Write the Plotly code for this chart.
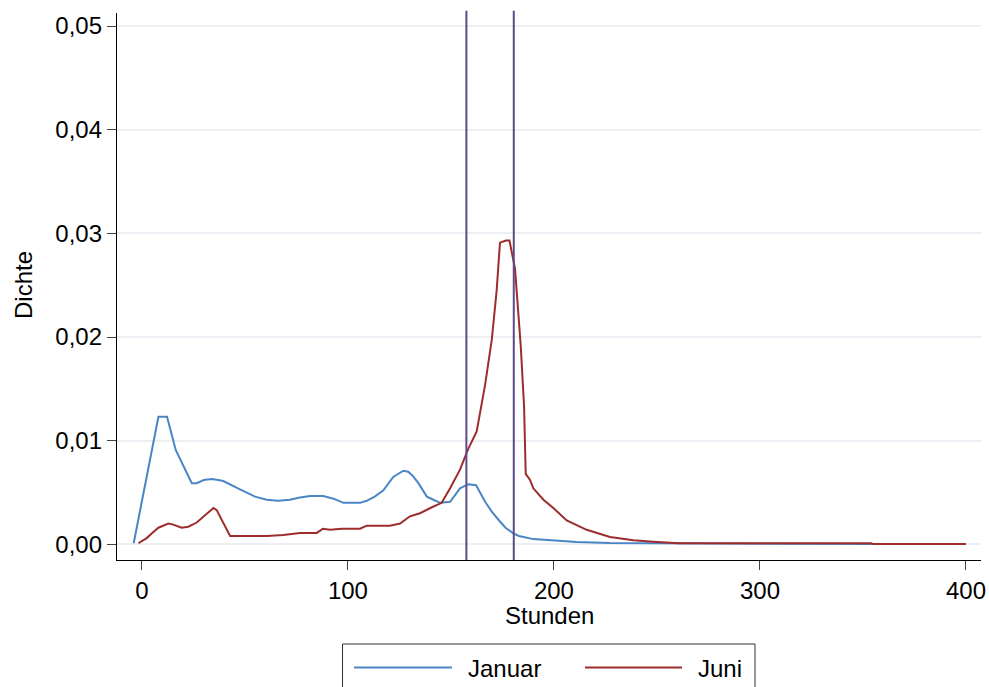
import plotly.graph_objects as go

# Januar density
jan_x = [-4, 8, 12.2, 16.4, 24.2, 26.6, 30, 33.9, 37, 39.5, 47.6, 54.9, 60.6, 66, 71.9, 76,
         81.6, 88, 93, 97.8, 105.9, 109.1, 113, 117.2, 122, 126.9, 129.3, 131.5, 134.2, 138.3,
         141.5, 144.7, 149.6, 152, 154.4, 158.5, 162.2, 166.6, 170, 173.8, 176.5, 180.3, 183,
         190, 199, 211, 227, 246.6, 260, 307, 354, 400]
jan_y = [0.0001, 0.0123, 0.0123, 0.0091, 0.0059, 0.0059, 0.0062, 0.0063, 0.0062, 0.0061, 0.0053,
         0.0046, 0.0043, 0.0042, 0.0043, 0.0045, 0.00466, 0.00466, 0.0044, 0.0040, 0.0040, 0.0042,
         0.0046, 0.0052, 0.0065, 0.0071, 0.0070, 0.0066, 0.0059, 0.0046, 0.0043, 0.0040, 0.0041,
         0.0047, 0.0054, 0.0058, 0.0057, 0.0041, 0.0031, 0.0022, 0.0016, 0.00106, 0.0008,
         0.0005, 0.00035, 0.00022, 0.00012, 0.0001, 0.0001, 0.0001, 0.00002, 0.00002]

# Juni density
jun_x = [-1.7, 2.3, 5, 8, 12.8, 15.2, 19.3, 22.5, 26.6, 30.6, 34.7, 36.3, 42.8, 54.9, 60.6,
         68.6, 76.7, 84.9, 87.8, 91.3, 97, 105.9, 109.1, 120.4, 125.3, 130.1, 135, 140, 145.5,
         149.6, 154.4, 158.4, 162.5, 166.6, 169.8, 172.2, 173.8, 176.7, 178.4, 181.1, 182.2,
         183.9, 185.5, 186.3, 188.4, 190, 194.9, 199.7, 206.2, 215.9, 227.2, 238.6, 248.3,
         260.4, 354, 355, 400]
jun_y = [0.0001, 0.0006, 0.0011, 0.0016, 0.0020, 0.0019, 0.0016, 0.0017, 0.0021, 0.0028, 0.0035,
         0.0033, 0.0008, 0.0008, 0.0008, 0.0009, 0.0011, 0.0011, 0.0015, 0.0014, 0.0015, 0.0015,
         0.0018, 0.0018, 0.0020, 0.0027, 0.0030, 0.0035, 0.0040, 0.0054, 0.0072, 0.0092, 0.0109,
         0.0154, 0.0197, 0.0245, 0.0291, 0.0293, 0.0293, 0.0266, 0.0239, 0.0191, 0.0133, 0.0068,
         0.0062, 0.0054, 0.0043, 0.0035, 0.0023, 0.0014, 0.0007, 0.0004, 0.00025, 0.0001,
         0.0001, 0.00002, 0.00002]

medians = [157.5, 180.5]
series_names = ["Januar", "Juni"]
x_ticks = [0, 100, 200, 300, 400]
y_ticks = [0.0, 0.01, 0.02, 0.03, 0.04, 0.05]

BLUE = "#4a86c6"
RED = "#9e2c2c"
PURPLE = "#5e4a88"
FONT = "Liberation Sans, Arial, sans-serif"
FS = 24

fig = go.Figure()
fig.add_trace(go.Scatter(x=jan_x, y=jan_y, mode="lines", name=series_names[0],
                         line=dict(color=BLUE, width=2), showlegend=False))
fig.add_trace(go.Scatter(x=jun_x, y=jun_y, mode="lines", name=series_names[1],
                         line=dict(color=RED, width=2), showlegend=False))
for m in medians:
    fig.add_shape(type="line", xref="x", yref="paper", x0=m, x1=m, y0=0, y1=1.004,
                  line=dict(color=PURPLE, width=2))

# manual legend (paper coords; page pixels relative to the plot area)
W, H = 864.0, 547.0
def px(xp):
    return (xp - 117) / W
def py(yp):
    return (560 - yp) / H

fig.add_shape(type="rect", xref="paper", yref="paper", x0=px(342.5), x1=px(755), y0=py(644),
              y1=py(720), line=dict(color="#333333", width=1), fillcolor="white", layer="above")
fig.add_shape(type="line", xref="paper", yref="paper", x0=px(354), x1=px(452), y0=py(667.5),
              y1=py(667.5), line=dict(color=BLUE, width=2))
fig.add_shape(type="line", xref="paper", yref="paper", x0=px(585), x1=px(682), y0=py(667.5),
              y1=py(667.5), line=dict(color=RED, width=2))

annos = [
    dict(text=series_names[0], x=px(466), y=py(668), xanchor="left", yanchor="middle"),
    dict(text=series_names[1], x=px(696), y=py(668), xanchor="left", yanchor="middle"),
    dict(text="Stunden", x=px(549.5), y=py(615.5), xanchor="center", yanchor="middle"),
    dict(text="Dichte", x=px(23), y=py(285), xanchor="center", yanchor="middle", textangle=-90),
]
for a in annos:
    fig.add_annotation(xref="paper", yref="paper", showarrow=False,
                       font=dict(family=FONT, size=FS, color="black"), **a)

fig.update_layout(
    template="none",
    width=989, height=687,
    margin=dict(l=117, r=8, t=13, b=127, autoexpand=False),
    paper_bgcolor="white", plot_bgcolor="white",
    separators=",.",
    font=dict(family=FONT, size=FS, color="black"),
    showlegend=False,
    xaxis=dict(range=[-12.1, 407.3], tickvals=x_ticks, showgrid=False, zeroline=False,
               showline=True, linecolor="black", linewidth=1.3, ticks="outside", ticklen=9,
               tickcolor="#444444", tickwidth=1.3, tickfont=dict(size=FS), automargin=False),
    yaxis=dict(range=[-0.001515, 0.05126], tickvals=y_ticks, tickformat=".2f",
               showgrid=True, gridcolor="#eceff4", gridwidth=1.5, zeroline=False,
               showline=True, linecolor="black", linewidth=1.3, ticks="outside", ticklen=9,
               tickcolor="#444444", tickwidth=1.3, tickfont=dict(size=FS), automargin=False),
)

fig.write_html("out.html", config={"displayModeBar": False},
               post_script="document.body.style.margin='0';document.body.style.overflow='hidden';")
